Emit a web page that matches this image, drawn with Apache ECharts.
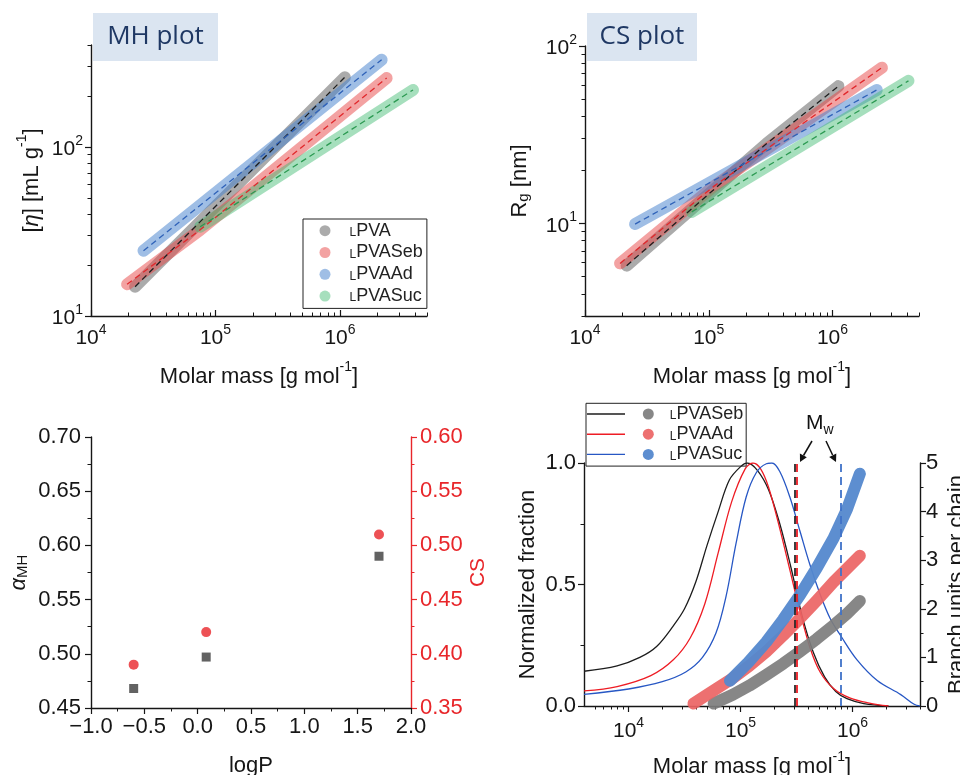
<!DOCTYPE html>
<html><head><meta charset="utf-8">
<script src="https://cdn.jsdelivr.net/npm/echarts@6/dist/echarts.min.js"></script>
<style>html,body{margin:0;padding:0;background:#fff}#c{width:960px;height:775px}</style>
</head><body><div id="c"></div>
<script>
// ---------------- data ----------------
// MH plot: [molar mass g/mol, intrinsic viscosity mL/g]
const mhLPVA    = [[22600, 14.9], [1094000, 258]];
const mhLPVASeb = [[19500, 15.4], [75300, 32.3], [2370000, 255]];
const mhLPVAAd  = [[26400, 24.3], [2160000, 327]];
const mhLPVASuc = [[75300, 33.7], [3860000, 217]];
// CS plot: [molar mass, Rg nm]
const csLPVA    = [[21700, 5.77], [294000, 28.2], [1117000, 59.4]];
const csLPVASeb = [[19200, 5.94], [109000, 16.1], [2510000, 75.5]];
const csLPVAAd  = [[25400, 9.9], [2280000, 56.5]];
const csLPVASuc = [[72900, 11.6], [4110000, 63.6]];
// exponents vs logP
const logP    = [-0.6, 0.08, 1.7];
const alphaMH = [0.468, 0.497, 0.590];
const csExp   = [0.39, 0.42, 0.51];
// molar mass distributions: [molar mass, normalized fraction]
const distLPVASeb = [[4000,0.143],[7900,0.165],[12600,0.20],[17800,0.245],[25100,0.33],[31600,0.40],[39800,0.51],[50100,0.66],[63100,0.80],[79400,0.93],[100000,0.985],[114800,1.0],[141300,0.97],[177800,0.89],[223900,0.75],[281800,0.57],[354800,0.37],[446700,0.22],[562300,0.12],[707900,0.06],[891300,0.03],[1259000,0.01],[2089000,0.0]];
const distLPVAAd  = [[4000,0.062],[7900,0.080],[15800,0.125],[25100,0.19],[35500,0.28],[47900,0.42],[63100,0.63],[83200,0.84],[109600,0.975],[128800,1.0],[151400,0.975],[177800,0.90],[223900,0.73],[275400,0.56],[338800,0.39],[416900,0.24],[512900,0.14],[676100,0.072],[955000,0.032],[1413000,0.012],[2089000,0.0]];
const distLPVASuc = [[4000,0.048],[10000,0.070],[20000,0.10],[32400,0.14],[45700,0.20],[60300,0.30],[74100,0.45],[91200,0.67],[112200,0.86],[138000,0.96],[169800,0.997],[190500,1.0],[223900,0.965],[275400,0.86],[338800,0.72],[416900,0.58],[512900,0.46],[631000,0.36],[794300,0.285],[1096000,0.19],[1660000,0.105],[2692000,0.047],[3548000,0.007],[3981000,0.0]];
// branch units per chain: [molar mass, units]
const branchLPVASeb = [[57500,0.05],[85100,0.23],[120200,0.42],[169800,0.64],[239900,0.87],[338800,1.12],[478600,1.38],[676100,1.66],[891300,1.90],[1161000,2.16]];
const branchLPVAAd  = [[38000,0.05],[60300,0.35],[85100,0.57],[120200,0.83],[169800,1.12],[239900,1.45],[338800,1.80],[478600,2.17],[676100,2.55],[1161000,3.09]];
const branchLPVASuc = [[80400,0.52],[117500,0.90],[169800,1.32],[239900,1.78],[338800,2.28],[478600,2.84],[676100,3.45],[891300,4.05],[1161000,4.78]];
// weight-average molar masses
const mwLPVASeb = 302000, mwLPVAAd = 320000, mwLPVASuc = 790000;
// ticks
const decadeTicks = [10000, 100000, 1000000];
const mhYTicks = [10, 100];
const csYTicks = [10, 100];
const mhXMinor = [20000,30000,40000,50000,60000,70000,80000,90000,200000,300000,400000,500000,600000,700000,800000,900000,2000000,3000000,4000000,5000000];
const mhYMinor = [20,30,40,50,60,70,80,90,200,300,400];
const csYMinor = [3,4,5,6,7,8,9,20,30,40,50,60,70,80,90];
const distXMinor = [5000,6000,7000,8000,9000,20000,30000,40000,50000,60000,70000,80000,90000,200000,300000,400000,500000,600000,700000,800000,900000,2000000,3000000,4000000];

// ---------------- styling ----------------
const FONT = '"Liberation Sans", Arial, sans-serif';
const AX = '#161616';
const RED = '#e8262a';
const supRich = {
  b:   {fontSize: 21, lineHeight: 26, verticalAlign: 'bottom', fontFamily: FONT, color: AX},
  sup: {fontSize: 14, lineHeight: 14, verticalAlign: 'top', fontFamily: FONT, color: AX}
};
const nameRich = {
  t:   {fontSize: 22, lineHeight: 28, verticalAlign: 'bottom', fontFamily: FONT, color: AX},
  i:   {fontSize: 22, lineHeight: 28, verticalAlign: 'bottom', fontFamily: FONT, color: AX, fontStyle: 'italic'},
  sup: {fontSize: 14, lineHeight: 14, verticalAlign: 'top', fontFamily: FONT, color: AX},
  sub: {fontSize: 15, lineHeight: 15, verticalAlign: 'bottom', padding: [12,0,0,0], fontFamily: FONT, color: AX},
  r:   {fontSize: 21, lineHeight: 28, verticalAlign: 'bottom', fontFamily: FONT, color: RED}
};
function supLabel(v) { return '{b|10}{sup|' + Math.round(Math.log10(v)) + '}'; }

function majorLog(dim, gridIndex, min, max, ticks, tickInside, margin, name, nameGap) {
  return {
    type: 'log', logBase: 10, gridIndex, min, max,
    position: dim === 'x' ? 'bottom' : 'left',
    axisLine: {show: true, onZero: false, lineStyle: {color: AX, width: 1.4}},
    axisTick: {show: true, inside: tickInside, length: 6, customValues: ticks, lineStyle: {color: AX, width: 1.2}},
    axisLabel: {show: true, customValues: ticks, margin, formatter: supLabel, rich: supRich},
    splitLine: {show: false},
    name, nameLocation: 'middle', nameGap, nameTextStyle: {rich: nameRich}
  };
}
function minorLog(dim, gridIndex, min, max, ticks, tickInside) {
  return {
    type: 'log', logBase: 10, gridIndex, min, max,
    position: dim === 'x' ? 'bottom' : 'left',
    axisLine: {show: false}, axisLabel: {show: false}, splitLine: {show: false},
    axisTick: {show: true, inside: tickInside, length: 3.5, customValues: ticks, lineStyle: {color: AX, width: 1}}
  };
}
function valAxis(gridIndex, pos, min, max, interval, color, margin, fmt, name, nameGap, fontSize) {
  return {
    type: 'value', gridIndex, position: pos, min, max, interval,
    axisLine: {show: true, onZero: false, lineStyle: {color, width: 1.4}},
    axisTick: {show: true, inside: false, length: 6, lineStyle: {color, width: 1.2}},
    minorTick: {show: true, splitNumber: 2, length: 3.5, lineStyle: {color, width: 1}},
    axisLabel: {margin, formatter: fmt, color, fontSize, fontFamily: FONT},
    splitLine: {show: false}, minorSplitLine: {show: false},
    name, nameLocation: 'middle', nameGap, nameTextStyle: {rich: nameRich}
  };
}
function band(name, data, xi, yi, color, width, z) {
  return {type: 'line', name, data, xAxisIndex: xi, yAxisIndex: yi, symbol: 'none', silent: true, z: z || 2,
    lineStyle: {color, width, cap: 'round', join: 'round'}, itemStyle: {color}};
}
function fit(name, data, xi, yi, color) {
  return {type: 'line', name, data, xAxisIndex: xi, yAxisIndex: yi, symbol: 'none', silent: true, z: 4,
    lineStyle: {color, width: 1.3, type: [6, 4]}, itemStyle: {color}};
}
function dist(name, data, color) {
  return {type: 'line', name, data, xAxisIndex: 5, yAxisIndex: 6, symbol: 'none', silent: true, z: 2, smooth: 0.35,
    lineStyle: {color, width: 1.3}, itemStyle: {color}};
}
function mwLine(mw, color) {
  return {type: 'line', name: 'mwl', data: [], xAxisIndex: 5, yAxisIndex: 6, z: 6, silent: true,
    markLine: {symbol: ['none', 'none'], silent: true, label: {show: false}, animation: false,
      lineStyle: {color, width: 1.8, type: [8, 5]}, data: [{xAxis: mw}]}};
}
function legRich(shift) {
  return {
    s: {fontSize: 12, lineHeight: 12, verticalAlign: 'bottom', padding: [0,0,1,shift], fontFamily: FONT, color: '#222'},
    n: {fontSize: 18, lineHeight: 18, verticalAlign: 'bottom', fontFamily: FONT, color: '#222'}
  };
}
function legFmt(name) { const n = name.split('|').pop(); return '{s|L}{n|' + n.slice(1) + '}'; }

const cMH = {
  gray: 'rgba(120,120,120,0.62)', red: 'rgba(232,70,70,0.5)', blue: 'rgba(70,130,206,0.52)', green: 'rgba(70,188,118,0.48)'
};

const option = {
  animation: false,
  backgroundColor: '#fff',
  textStyle: {fontFamily: FONT},
  grid: [
    {left: 91, top: 45, width: 336, height: 271, outerBoundsMode: 'none', containLabel: false},
    {left: 585, top: 46, width: 334, height: 270, outerBoundsMode: 'none', containLabel: false},
    {left: 91, top: 437, width: 320, height: 271, outerBoundsMode: 'none', containLabel: false},
    {left: 584, top: 463, width: 336, height: 243, outerBoundsMode: 'none', containLabel: false}
  ],
  xAxis: [
    majorLog('x', 0, 10000, 5000000, decadeTicks, true, 7, '{t|Molar mass [g mol}{sup|-1}{t|]}', 44),
    minorLog('x', 0, 10000, 5000000, mhXMinor, true),
    majorLog('x', 1, 10000, 5000000, decadeTicks, true, 7, '{t|Molar mass [g mol}{sup|-1}{t|]}', 44),
    minorLog('x', 1, 10000, 5000000, mhXMinor, true),
    valAxis(2, 'bottom', -1, 2, 0.5, AX, 8, v => (v < 0 ? '\u2212' : '') + Math.abs(v).toFixed(1), '{t|logP}', 41, 22),
    majorLog('x', 3, 4000, 4000000, decadeTicks, false, 10, '{t|Molar mass [g mol}{sup|-1}{t|]}', 44),
    minorLog('x', 3, 4000, 4000000, distXMinor, false)
  ],
  yAxis: [
    majorLog('y', 0, 10, 400, mhYTicks, false, 8, '{t|[}{i|η}{t|] [mL g}{sup|-1}{t|]}', 48),
    minorLog('y', 0, 10, 400, mhYMinor, false),
    majorLog('y', 1, 3, 100, csYTicks, false, 8, '{t|R}{sub|g}{t| [nm]}', 54),
    minorLog('y', 1, 3, 100, csYMinor, false),
    valAxis(2, 'left', 0.45, 0.70, 0.05, AX, 10, v => v.toFixed(2), '{i|α}{sub|MH}', 61, 22),
    valAxis(2, 'right', 0.35, 0.60, 0.05, RED, 9, v => v.toFixed(2), '{r|CS}', 50, 22),
    valAxis(3, 'left', 0, 1, 0.5, AX, 8, v => v.toFixed(1), '{t|Normalized fraction}', 45, 22),
    valAxis(3, 'right', 0, 5, 1, AX, 6, v => String(v), '{t|Branch units per chain}', 20, 22)
  ],
  legend: [
    {data: ['mh|LPVA', 'mh|LPVASeb', 'mh|LPVAAd', 'mh|LPVASuc'], orient: 'vertical', left: 303, top: 219,
      padding: [2.7, 4, 3.3, 16.5], itemWidth: 11, itemHeight: 11, itemGap: 3.8, icon: 'circle',
      borderColor: '#222', borderWidth: 1, selectedMode: false, formatter: legFmt, textStyle: {rich: legRich(14)}},
    {data: ['mw|LPVASeb', 'mw|LPVAAd', 'mw|LPVASuc'], orient: 'vertical', left: 587, top: 405,
      padding: 0, itemWidth: 38, itemHeight: 1.4, itemGap: 2.2, icon: 'rect', selectedMode: false, formatter: () => ' ',
      textStyle: {fontSize: 12, lineHeight: 18}},
    {data: ['bu|LPVASeb', 'bu|LPVAAd', 'bu|LPVASuc'], orient: 'vertical', left: 586, top: 403.3,
      padding: [1.7, 3, 2.7, 56.8], itemWidth: 11, itemHeight: 11, itemGap: 2.2, icon: 'circle',
      borderColor: '#222', borderWidth: 1, selectedMode: false, formatter: legFmt, textStyle: {rich: legRich(11)}}
  ],
  series: [
    // MH plot
    band('mh|LPVA', mhLPVA, 0, 0, cMH.gray, 12),
    band('mh|LPVASeb', mhLPVASeb, 0, 0, cMH.red, 12),
    band('mh|LPVAAd', mhLPVAAd, 0, 0, cMH.blue, 12),
    band('mh|LPVASuc', mhLPVASuc, 0, 0, cMH.green, 12),
    fit('fitmh1', mhLPVA, 0, 0, '#1e1e1e'),
    fit('fitmh2', mhLPVASeb, 0, 0, '#e0282c'),
    fit('fitmh3', mhLPVAAd, 0, 0, '#2f62b8'),
    fit('fitmh4', mhLPVASuc, 0, 0, '#2c9a52'),
    // CS plot
    band('cs|LPVA', csLPVA, 2, 2, cMH.gray, 12),
    band('cs|LPVASeb', csLPVASeb, 2, 2, cMH.red, 12),
    band('cs|LPVAAd', csLPVAAd, 2, 2, cMH.blue, 12),
    band('cs|LPVASuc', csLPVASuc, 2, 2, cMH.green, 12),
    fit('fitcs1', csLPVA, 2, 2, '#1e1e1e'),
    fit('fitcs2', csLPVASeb, 2, 2, '#e0282c'),
    fit('fitcs3', csLPVAAd, 2, 2, '#2f62b8'),
    fit('fitcs4', csLPVASuc, 2, 2, '#2c9a52'),
    // exponents
    {type: 'scatter', name: 'alpha', data: logP.map((x, i) => [x, alphaMH[i]]), xAxisIndex: 4, yAxisIndex: 4,
      symbol: 'rect', symbolSize: 9, itemStyle: {color: '#3b3b3b'}, silent: true},
    {type: 'scatter', name: 'csexp', data: logP.map((x, i) => [x, csExp[i]]), xAxisIndex: 4, yAxisIndex: 5,
      symbol: 'circle', symbolSize: 10, itemStyle: {color: RED}, silent: true},
    // distributions
    dist('mw|LPVASeb', distLPVASeb, '#1c1c1c'),
    dist('mw|LPVAAd', distLPVAAd, '#ee1c24'),
    dist('mw|LPVASuc', distLPVASuc, '#2757c4'),
    band('bu|LPVASeb', branchLPVASeb, 5, 7, 'rgba(125,125,125,0.92)', 12, 3),
    band('bu|LPVAAd', branchLPVAAd, 5, 7, 'rgba(236,100,100,0.92)', 12, 3),
    band('bu|LPVASuc', branchLPVASuc, 5, 7, 'rgba(84,136,206,0.95)', 12, 3),
    mwLine(mwLPVASeb, '#2a2a2a'),
    mwLine(mwLPVAAd, '#ee1c24'),
    mwLine(mwLPVASuc, '#3f72c8')
  ],
  graphic: [
    {type: 'rect', shape: {x: 93, y: 13, width: 125, height: 48}, style: {fill: '#dbe5f1'}, silent: true},
    {type: 'text', x: 155.5, y: 37, style: {text: 'MH plot', fontSize: 26, fontFamily: '"Open Sans", sans-serif', fill: '#1f3864', align: 'center', verticalAlign: 'middle'}, silent: true},
    {type: 'rect', shape: {x: 587, y: 13, width: 110, height: 48}, style: {fill: '#dbe5f1'}, silent: true},
    {type: 'text', x: 642, y: 37, style: {text: 'CS plot', fontSize: 26, fontFamily: '"Open Sans", sans-serif', fill: '#1f3864', align: 'center', verticalAlign: 'middle'}, silent: true},
    {type: 'text', x: 806, y: 413, style: {text: '{m|M}{w|w}', rich: {
      m: {fontSize: 21, lineHeight: 24, verticalAlign: 'top', fontFamily: FONT, fill: '#111'},
      w: {fontSize: 14, lineHeight: 14, verticalAlign: 'bottom', padding: [8,0,0,0], fontFamily: FONT, fill: '#111'}}}, silent: true},
    {type: 'line', shape: {x1: 812, y1: 441, x2: 803.5, y2: 455.5}, style: {stroke: '#111', lineWidth: 1.5}, silent: true},
    {type: 'polygon', shape: {points: [[800, 462], [806.8, 457.3], [799.9, 453.5]]}, style: {fill: '#111'}, silent: true},
    {type: 'line', shape: {x1: 826, y1: 441, x2: 832.6, y2: 455}, style: {stroke: '#111', lineWidth: 1.5}, silent: true},
    {type: 'polygon', shape: {points: [[836, 462], [836.3, 453.4], [829.2, 457]]}, style: {fill: '#111'}, silent: true}
  ]
};
const chart = echarts.init(document.getElementById('c'), null, {renderer: 'canvas'});
chart.setOption(option);
</script></body></html>
